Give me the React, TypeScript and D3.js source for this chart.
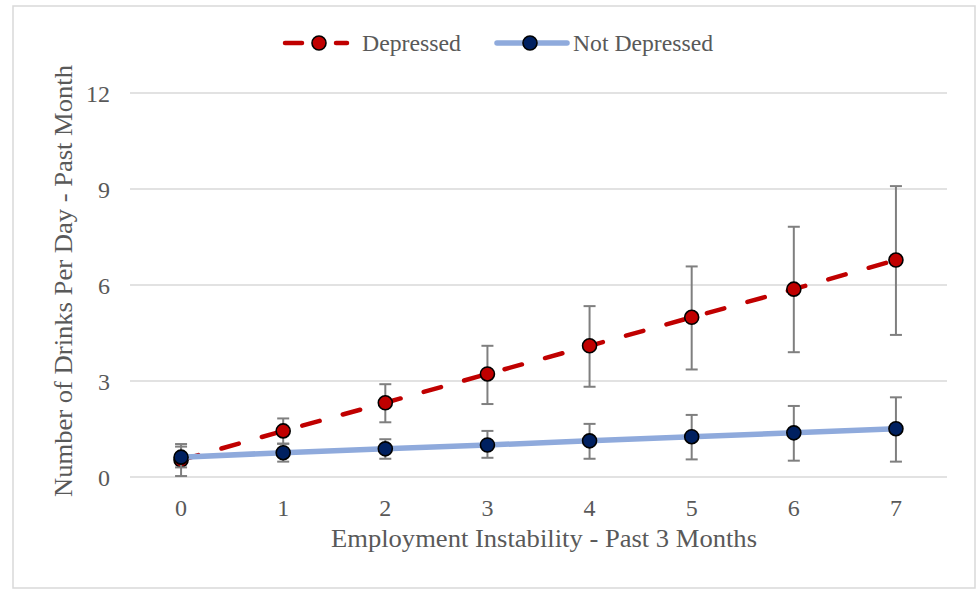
import React from "react";
import * as d3 from "d3";

const categories = ["0", "1", "2", "3", "4", "5", "6", "7"];
const yTicks = [0, 3, 6, 9, 12];
const depressed = [0.53, 1.44, 2.32, 3.22, 4.1, 4.99, 5.87, 6.78];
const depressedLow = [0.03, 1.04, 1.71, 2.28, 2.82, 3.36, 3.9, 4.44];
const depressedHigh = [1.03, 1.83, 2.9, 4.1, 5.34, 6.58, 7.82, 9.09];
const notDepressed = [0.62, 0.76, 0.88, 1.0, 1.13, 1.26, 1.38, 1.51];
const notDepressedLow = [0.3, 0.48, 0.57, 0.6, 0.57, 0.55, 0.51, 0.48];
const notDepressedHigh = [0.95, 1.04, 1.18, 1.44, 1.66, 1.94, 2.22, 2.49];

const W = 977;
const H = 590;
const FONT = "'Liberation Serif', 'Times New Roman', serif";
const TEXT = "#595959";
const RED = "#c00000";
const BLUE_LINE = "#8faadc";
const BLUE_FILL = "#002060";
const ERR = "#7f7f7f";

export default function App() {
  const x = d3.scalePoint<string>().domain(categories).range([130, 947]).padding(0.5);
  const y = d3.scaleLinear().domain([0, 12]).range([477, 93]);
  const line = d3
    .line<number>()
    .x((_, i) => x(categories[i]) as number)
    .y((d) => y(d));

  const errorBars = (low: number[], high: number[], key: string) =>
    categories.map((c, i) => {
      const cx = x(c) as number;
      return (
        <g key={key + i} stroke={ERR} strokeWidth={2} fill="none">
          <line x1={cx} x2={cx} y1={y(low[i])} y2={y(high[i])} />
          <line x1={cx - 6} x2={cx + 6} y1={y(low[i])} y2={y(low[i])} />
          <line x1={cx - 6} x2={cx + 6} y1={y(high[i])} y2={y(high[i])} />
        </g>
      );
    });

  const markers = (vals: number[], fill: string, key: string) =>
    vals.map((v, i) => (
      <circle
        key={key + i}
        cx={x(categories[i]) as number}
        cy={y(v)}
        r={7}
        fill={fill}
        stroke="#000"
        strokeWidth={1.6}
      />
    ));

  return (
    <svg
      width={W}
      height={H}
      style={{ position: "absolute", left: 0, top: 0 }}
      fontFamily={FONT}
    >
      <rect x={0} y={0} width={W} height={H} fill="#fff" />
      <rect x={13} y={6} width={962} height={582} fill="#fff" stroke="#d9d9d9" strokeWidth={1.5} />

      {yTicks.map((t) => (
        <g key={"g" + t}>
          <line x1={130} x2={947} y1={y(t)} y2={y(t)} stroke="#d9d9d9" strokeWidth={1.5} />
          <text x={110} y={y(t) + 8.5} textAnchor="end" fontSize={24} fill={TEXT}>
            {t}
          </text>
        </g>
      ))}

      {categories.map((c) => (
        <text key={"x" + c} x={x(c) as number} y={516} textAnchor="middle" fontSize={24} fill={TEXT}>
          {c}
        </text>
      ))}

      <text
        x={544}
        y={547}
        textAnchor="middle"
        fontSize={26}
        fill={TEXT}
        textLength={426}
        lengthAdjust="spacingAndGlyphs"
      >
        Employment Instability - Past 3 Months
      </text>
      <text
        transform="translate(72,281) rotate(-90)"
        textAnchor="middle"
        fontSize={26}
        fill={TEXT}
        textLength={432}
        lengthAdjust="spacingAndGlyphs"
      >
        Number of Drinks Per Day - Past Month
      </text>

      {/* Depressed series */}
      <path
        d={line(depressed) || ""}
        fill="none"
        stroke={RED}
        strokeWidth={4.5}
        strokeDasharray="18,24"
        strokeLinecap="round"
      />
      {errorBars(depressedLow, depressedHigh, "de")}
      {markers(depressed, RED, "dm")}

      {/* Not depressed series */}
      <path d={line(notDepressed) || ""} fill="none" stroke={BLUE_LINE} strokeWidth={5.5} />
      {errorBars(notDepressedLow, notDepressedHigh, "ne")}
      {markers(notDepressed, BLUE_FILL, "nm")}

      {/* Legend */}
      <g>
        <line x1={285} x2={302} y1={43} y2={43} stroke={RED} strokeWidth={4.5} strokeLinecap="round" />
        <line x1={336} x2={347} y1={43} y2={43} stroke={RED} strokeWidth={4.5} strokeLinecap="round" />
        <circle cx={319} cy={43} r={7} fill={RED} stroke="#000" strokeWidth={1.6} />
        <text x={362} y={51} fontSize={24} fill={TEXT} textLength={99} lengthAdjust="spacingAndGlyphs">
          Depressed
        </text>
        <line x1={497} x2={567} y1={43} y2={43} stroke={BLUE_LINE} strokeWidth={5.5} strokeLinecap="round" />
        <circle cx={530} cy={43} r={7} fill={BLUE_FILL} stroke="#000" strokeWidth={1.6} />
        <text x={573} y={51} fontSize={24} fill={TEXT} textLength={140} lengthAdjust="spacingAndGlyphs">
          Not Depressed
        </text>
      </g>
    </svg>
  );
}
